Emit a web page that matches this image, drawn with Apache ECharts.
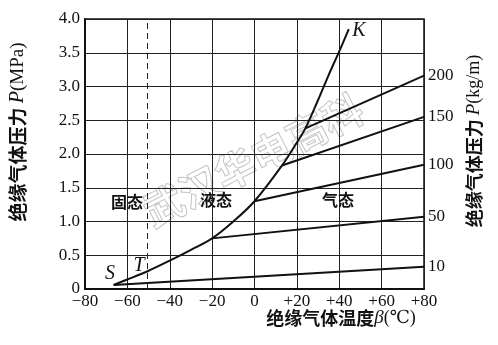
<!DOCTYPE html>
<html><head><meta charset="utf-8">
<script src="https://cdn.jsdelivr.net/npm/echarts@6/dist/echarts.min.js"></script>
<style>html,body{margin:0;padding:0;background:#fff}#c{width:498px;height:345px}</style>
</head><body><div id="c"></div>
<script>
// Saturation (vapour pressure) curve S-T-K
const satT = [-66.5,-60,-50,-40,-30,-20,-10,0,13,20,24,30,35,40,44.5];
const satP = [0.06,0.14,0.27,0.42,0.58,0.75,1.0,1.30,1.83,2.17,2.38,2.8,3.17,3.52,3.85];
// Iso-density lines (kg/m3)
const densNames = ['10','50','100','150','200'];
const densStartT = [-66.5,-20,0,13,24];
const densStartP = [0.06,0.75,1.30,1.83,2.38];
const densEndT = [80,80,80,80,80];
const densEndP = [0.33,1.07,1.84,2.55,3.16];
const triplePointT = -50.8;
const phaseLabels = ['固态','液态','气态'];

const serif = '"Liberation Serif","DejaVu Serif",serif';
const cjk = '"Noto Sans CJK SC",sans-serif';

const chart = echarts.init(document.getElementById('c'));
const series = [{
  type:'line', data: satT.map((t,i)=>[t,satP[i]]), smooth:0.35, symbol:'none',
  lineStyle:{color:'#111',width:2},
  markLine:{silent:true,symbol:'none',label:{show:false},
    lineStyle:{color:'#222',type:[6,4],width:1},
    data:[{xAxis:triplePointT}]}
}];
densNames.forEach((n,i)=>{
  series.push({type:'line',name:n,symbol:'none',
    data:[[densStartT[i],densStartP[i]],[densEndT[i],densEndP[i]]],
    lineStyle:{color:'#111',width:2},
    endLabel:{show:true,formatter:n,color:'#111',fontFamily:serif,fontSize:17,distance:4}});
});
chart.setOption({
  animation:false,
  grid:{left:85,right:74,top:19,bottom:56,show:true,borderColor:'#111',borderWidth:1.5},
  xAxis:{type:'value',min:-80,max:80,interval:20,
    axisLine:{onZero:false,lineStyle:{color:'#111',width:2}},axisTick:{show:false},
    splitLine:{lineStyle:{color:'#222',width:1}},
    axisLabel:{color:'#111',fontFamily:serif,fontSize:17,margin:4,
      formatter:v=>v>0?'+'+v:(v<0?'−'+(-v):'0')}},
  yAxis:{type:'value',min:0,max:4,interval:0.5,
    axisLine:{show:true,onZero:false,lineStyle:{color:'#111',width:2}},axisTick:{show:false},
    splitLine:{lineStyle:{color:'#222',width:1}},
    axisLabel:{color:'#111',fontFamily:serif,fontSize:17,margin:5,
      formatter:v=>v===0?'0':v.toFixed(1)}},
  series:series,
  graphic:[
    {type:'text',x:253,y:160,rotation:Math.PI*0.15,z:-1,silent:true,
      style:{text:'武汉华电高科',fontSize:40,fontFamily:cjk,fontWeight:'bold',
        fill:'rgba(0,0,0,0)',stroke:'#c4c4c4',lineWidth:1,align:'center',verticalAlign:'middle'}},
    {type:'text',x:18,y:132,rotation:Math.PI/2,
      style:{text:'{a|绝缘气体压力 }{b|P}{c|(MPa)}',align:'center',verticalAlign:'middle',
        rich:{a:{fontFamily:cjk,fontWeight:'bold',fontSize:19,fill:'#111'},
              b:{fontFamily:serif,fontStyle:'italic',fontSize:20,fill:'#111'},
              c:{fontFamily:serif,fontSize:19,fill:'#111'}}}},
    {type:'text',x:474,y:141,rotation:Math.PI/2,
      style:{text:'{a|绝缘气体压力 }{b|P}{c|(kg/m)}',align:'center',verticalAlign:'middle',
        rich:{a:{fontFamily:cjk,fontWeight:'bold',fontSize:18,fill:'#111'},
              b:{fontFamily:serif,fontStyle:'italic',fontSize:19,fill:'#111'},
              c:{fontFamily:serif,fontSize:18,fill:'#111'}}}},
    {type:'text',x:341,y:318,
      style:{text:'{a|绝缘气体温度}{b|β}{c|(℃)}',align:'center',verticalAlign:'middle',
        rich:{a:{fontFamily:cjk,fontWeight:'bold',fontSize:18,fill:'#111'},
              b:{fontFamily:serif,fontStyle:'italic',fontSize:19,fill:'#111'},
              c:{fontFamily:serif,fontSize:18,fill:'#111'}}}},
    {type:'text',x:127,y:202,style:{text:phaseLabels[0],fontFamily:cjk,fontWeight:'bold',fontSize:16,fill:'#111',align:'center',verticalAlign:'middle'}},
    {type:'text',x:216,y:200,style:{text:phaseLabels[1],fontFamily:cjk,fontWeight:'bold',fontSize:16,fill:'#111',align:'center',verticalAlign:'middle'}},
    {type:'text',x:338,y:200,style:{text:phaseLabels[2],fontFamily:cjk,fontWeight:'bold',fontSize:16,fill:'#111',align:'center',verticalAlign:'middle'}},
    {type:'text',x:110,y:274,style:{text:'S',fontFamily:serif,fontStyle:'italic',fontSize:20,fill:'#111',align:'center',verticalAlign:'middle'}},
    {type:'text',x:139,y:266,style:{text:'T',fontFamily:serif,fontStyle:'italic',fontSize:20,fill:'#111',align:'center',verticalAlign:'middle'}},
    {type:'text',x:359,y:31,style:{text:'K',fontFamily:serif,fontStyle:'italic',fontSize:20,fill:'#111',align:'center',verticalAlign:'middle'}}
  ]
});
</script></body></html>
